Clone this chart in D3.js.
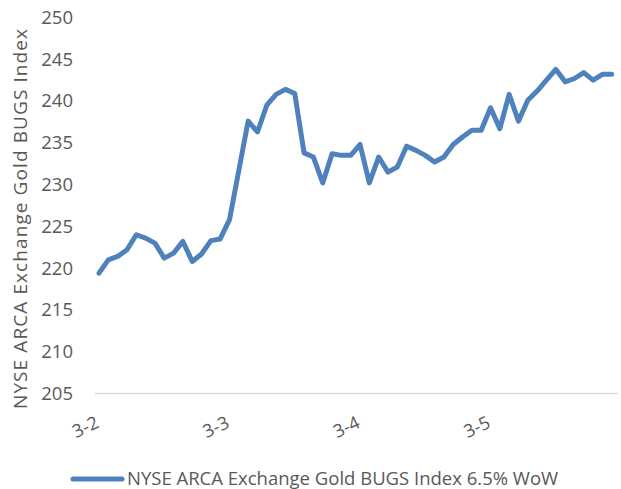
<!DOCTYPE html>
<html>
<head>
<meta charset="utf-8">
<script src="https://cdn.jsdelivr.net/npm/d3@7"></script>
<style>
  body { margin: 0; background: #fff; }
  svg text { font-family: "Open Sans", sans-serif; fill: #595959; }
</style>
</head>
<body>
<div id="chart"></div>
<script>
// series values, one per period
const values = [
  219.4, 221.0, 221.4, 222.2, 224.0, 223.6, 223.0, 221.2, 221.8, 223.2,
  220.8, 221.7, 223.3, 223.5, 225.8, 231.7, 237.6, 236.3, 239.5, 240.8,
  241.4, 240.9, 233.8, 233.3, 230.2, 233.7, 233.5, 233.5, 234.8, 230.2,
  233.3, 231.5, 232.1, 234.6, 234.1, 233.5, 232.7, 233.3, 234.8, 235.7,
  236.5, 236.5, 239.2, 236.7, 240.8, 237.6, 240.1, 241.2, 242.5, 243.8,
  242.3, 242.7, 243.4, 242.5, 243.2, 243.2
];
const tickIndex = [0, 14, 28, 42];
const tickLabels = ['3-2', '3-3', '3-4', '3-5'];
const yTicks = [205, 210, 215, 220, 225, 230, 235, 240, 245, 250];
const seriesName = 'NYSE ARCA Exchange Gold BUGS Index 6.5% WoW';
const yTitle = 'NYSE ARCA Exchange Gold BUGS Index';

const width = 621, height = 489;
const lineColor = '#4f81bd';

const svg = d3.select('#chart')
  .append('svg')
    .attr('width', width)
    .attr('height', height);

const x = d3.scalePoint()
  .domain(d3.range(values.length))
  .range([99, 611.7]);

const y = d3.scaleLinear()
  .domain([205, 250])
  .range([393.5, 17.5]);

// baseline
svg.append('line')
  .attr('x1', 95).attr('x2', 618)
  .attr('y1', y(205)).attr('y2', y(205))
  .attr('stroke', '#d9d9d9')
  .attr('stroke-width', 1.5);

// y axis labels
const yAxis = d3.axisLeft(y)
  .tickValues(yTicks)
  .tickSize(0)
  .tickPadding(0);

svg.append('g')
  .attr('transform', 'translate(73,0)')
  .call(yAxis)
  .call(g => g.select('.domain').remove())
  .selectAll('text')
    .style('font-size', '18.5px')
    .style('font-family', '"Open Sans", sans-serif')
    .attr('fill', '#595959');

// x axis labels
const xAxis = d3.axisBottom(x)
  .tickValues(tickIndex)
  .tickSize(0)
  .tickFormat((d, i) => tickLabels[i]);

svg.append('g')
  .call(xAxis)
  .call(g => g.select('.domain').remove())
  .selectAll('text')
    .attr('y', 0)
    .attr('dy', 0)
    .attr('text-anchor', 'end')
    .attr('transform', 'translate(0.5,427) rotate(-25)')
    .style('font-size', '18px')
    .style('font-family', '"Open Sans", sans-serif')
    .attr('fill', '#595959');

// y title
svg.append('text')
  .attr('transform', 'translate(27,219) rotate(-90)')
  .attr('text-anchor', 'middle')
  .attr('textLength', 380)
  .attr('lengthAdjust', 'spacing')
  .style('font-size', '19px')
  .text(yTitle);

// series line
svg.append('path')
  .datum(values)
  .attr('fill', 'none')
  .attr('stroke', lineColor)
  .attr('stroke-width', 5)
  .attr('stroke-linejoin', 'round')
  .attr('stroke-linecap', 'round')
  .attr('d', d3.line()
    .x((d, i) => x(i))
    .y(d => y(d)));

// legend
const legend = svg.append('g');
legend.append('line')
  .attr('x1', 73).attr('x2', 122)
  .attr('y1', 479).attr('y2', 479)
  .attr('stroke', lineColor)
  .attr('stroke-width', 5)
  .attr('stroke-linecap', 'round');
legend.append('text')
  .attr('x', 127)
  .attr('y', 479)
  .attr('dy', '0.35em')
  .style('font-size', '18.5px')
  .text(seriesName);
</script>
</body>
</html>
